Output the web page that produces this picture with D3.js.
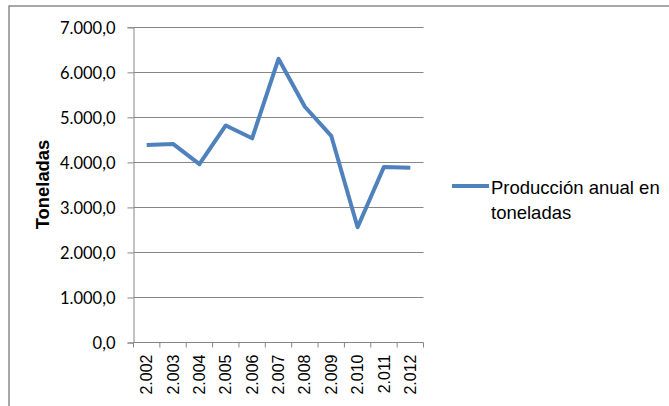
<!DOCTYPE html>
<html><head><meta charset="utf-8">
<script src="https://cdn.jsdelivr.net/npm/d3@7"></script>
<style>
body{margin:0;background:#fff;}
svg{display:block;}
</style></head>
<body>
<svg id="c" width="669" height="406"></svg>
<script>
const categories = ["2.002","2.003","2.004","2.005","2.006","2.007","2.008","2.009","2.010","2.011","2.012"];
const values = [4385, 4410, 3960, 4820, 4535, 6300, 5235, 4590, 2560, 3900, 3880];
const yTicks = [0, 1000, 2000, 3000, 4000, 5000, 6000, 7000];
const seriesName = ["Producción anual en", "toneladas"];
const yTitle = "Toneladas";

(function () {
const svg = d3.select("#c");
const blue = "#4F81BD", grid = "#868686";

// outer frame
svg.append("rect").attr("x", 9).attr("y", 6).attr("width", 700).attr("height", 450)
  .attr("fill", "none").attr("stroke", "#8a8a8a").attr("stroke-width", 1.5);

const pLeft = 133.5, pRight = 423.5, pTop = 27.3, pBottom = 342.5;
const x = d3.scaleBand().domain(categories).range([pLeft, pRight]).padding(0);
const y = d3.scaleLinear().domain([0, 7000]).range([pBottom, pTop]);

const loc = d3.formatLocale({decimal: ",", thousands: ".", grouping: [3], currency: ["", ""]});
const fmt = loc.format(",.1f");

// gridlines
svg.append("g").selectAll("line").data(yTicks.filter(d => d > 0)).join("line")
  .attr("x1", pLeft).attr("x2", pRight)
  .attr("y1", d => Math.round(y(d)) + 0.5).attr("y2", d => Math.round(y(d)) + 0.5)
  .attr("stroke", grid).attr("stroke-width", 1);

// y axis
const yAxis = svg.append("g").attr("transform", `translate(${pLeft},0)`)
  .call(d3.axisLeft(y).tickValues(yTicks).tickFormat(fmt).tickSize(6).tickPadding(12));
yAxis.select(".domain").attr("stroke", grid);
yAxis.selectAll(".tick line").attr("stroke", grid);
yAxis.selectAll(".tick text").attr("font-family", "Lato, 'Open Sans', sans-serif")
  .attr("font-size", "16.5px").attr("fill", "#000").attr("dy", "0.35em");

// x axis base line
svg.append("line").attr("x1", pLeft).attr("x2", pRight).attr("y1", pBottom).attr("y2", pBottom)
  .attr("stroke", grid).attr("stroke-width", 1);
// boundary ticks
const bounds = categories.map(c => x(c)).concat([x(categories[categories.length-1]) + x.bandwidth()]);
svg.append("g").selectAll("line").data(bounds).join("line")
  .attr("x1", d => d).attr("x2", d => d).attr("y1", pBottom).attr("y2", pBottom + 5)
  .attr("stroke", grid).attr("stroke-width", 1);

// x labels
const xAxis = svg.append("g").attr("transform", `translate(0,${pBottom})`)
  .call(d3.axisBottom(x).tickSize(0).tickPadding(0));
xAxis.select(".domain").remove();
xAxis.selectAll(".tick text")
  .attr("font-family", "'Liberation Sans', Arial, sans-serif").attr("font-size", "16px").attr("fill", "#000")
  .attr("transform", "rotate(-90)").attr("text-anchor", "end")
  .attr("x", -12).attr("y", 0).attr("dy", "0.35em");

// line
const line = d3.line().x((d, i) => x(categories[i]) + x.bandwidth() / 2).y(d => y(d));
svg.append("path").datum(values).attr("d", line).attr("fill", "none")
  .attr("stroke", blue).attr("stroke-width", 4).attr("stroke-linejoin", "round").attr("stroke-linecap", "butt");

// y title
svg.append("text").attr("transform", "translate(49,184.5) rotate(-90)")
  .attr("text-anchor", "middle").attr("font-family", "'Liberation Sans', Arial, sans-serif")
  .attr("font-weight", "bold").attr("font-size", "18.4px").text(yTitle);

// legend
svg.append("line").attr("x1", 452).attr("x2", 489).attr("y1", 186).attr("y2", 186)
  .attr("stroke", blue).attr("stroke-width", 4);
const lt = svg.append("text").attr("font-family", "'Liberation Sans', Arial, sans-serif")
  .attr("font-size", "18.5px").attr("fill", "#000");
lt.selectAll("tspan").data(seriesName).join("tspan")
  .attr("x", 491).attr("y", (d, i) => 194 + i * 25).text(d => d);
})();
</script>
</body></html>
